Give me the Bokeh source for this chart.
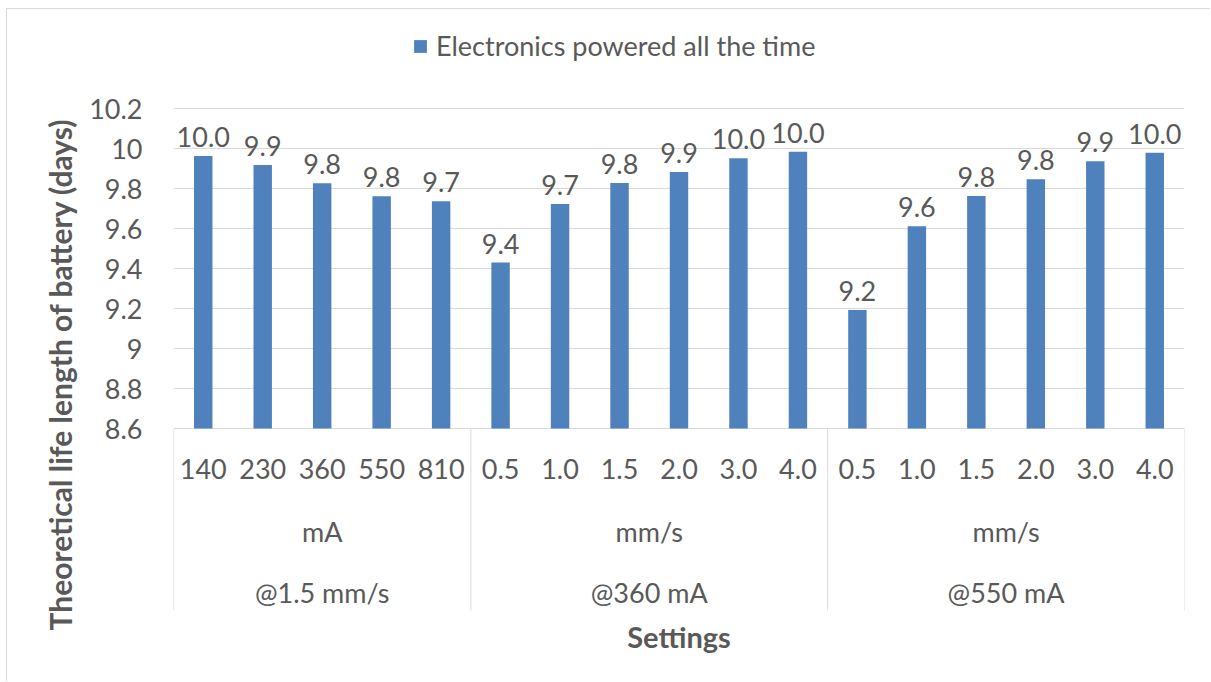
from bokeh.plotting import figure
from bokeh.models import (ColumnDataSource, FixedTicker, Legend, LegendItem, Range1d,
                          CustomJSTickFormatter, Title)
from bokeh.core.properties import value
from bokeh.embed import file_html
from bokeh.resources import INLINE

# --- data -------------------------------------------------------------
groups = ["@1.5 mm/s", "@360 mA", "@550 mA"]
units = ["mA", "mm/s", "mm/s"]
settings = [
    ["140", "230", "360", "550", "810"],
    ["0.5", "1.0", "1.5", "2.0", "3.0", "4.0"],
    ["0.5", "1.0", "1.5", "2.0", "3.0", "4.0"],
]
life_days = [
    [9.963, 9.918, 9.826, 9.761, 9.736],
    [9.430, 9.722, 9.827, 9.882, 9.951, 9.984],
    [9.193, 9.611, 9.763, 9.846, 9.936, 9.979],
]
y_ticks = [8.6, 8.8, 9.0, 9.2, 9.4, 9.6, 9.8, 10.0, 10.2]
series_name = "Electronics powered all the time"
y_title = "Theoretical life length of battery (days)"
x_title = "Settings"

# --- style -------------------------------------------------------------
FONT = "Lato"
TXT = "#595959"
GRID = "#D9D9D9"
BAR = "#4F81BD"
FS = "27px"
TITLE_FS = "29px"

# flatten the nested categories into bar positions
xs, tops, labels, names = [], [], [], []
bounds = [0]
for setting_list, vals in zip(settings, life_days):
    start = bounds[-1]
    for j, (s, v) in enumerate(zip(setting_list, vals)):
        xs.append(start + j + 0.5)
        tops.append(v)
        labels.append(f"{v:.1f}")
        names.append(s)
    bounds.append(start + len(setting_list))
n = bounds[-1]
group_mid = [(a + b) / 2 for a, b in zip(bounds[:-1], bounds[1:])]

axis_min = y_ticks[0]
# the frame reaches below the value axis (category box) and above it (legend room)
y_lo, y_hi = 7.69, 10.62

src = ColumnDataSource(dict(x=xs, top=tops, label=labels, name=names))

p = figure(width=1204, height=673,
           x_range=Range1d(0, n), y_range=Range1d(y_lo, y_hi),
           output_backend="svg", toolbar_location=None,
           min_border_left=166, min_border_right=27,
           min_border_top=15, min_border_bottom=72)
p.margin = (8, 0, 0, 6)
p.styles = {"border-left": f"1px solid {GRID}", "border-top": f"1px solid {GRID}"}
p.outline_line_color = None
p.background_fill_color = "white"
p.border_fill_color = "white"

bars = p.vbar(x="x", top="top", bottom=axis_min, width=0.31, source=src,
              fill_color=BAR, line_color=None)

# value labels above the bars
p.text(x="x", y="top", text="label", source=src, y_offset=-19,
       text_align="center", text_baseline="alphabetic",
       text_font=value(FONT), text_font_size=FS, text_color=TXT)

# category box: separators and three label rows
p.segment(x0=bounds, y0=[axis_min] * len(bounds), x1=bounds, y1=[y_lo] * len(bounds),
          line_color=GRID, line_width=1)
p.text(x="x", y=axis_min, text="name", source=src, y_offset=40,
       text_align="center", text_baseline="middle",
       text_font=value(FONT), text_font_size=FS, text_color=TXT)
p.text(x=group_mid, y=[axis_min] * len(group_mid), text=units, y_offset=103,
       text_align="center", text_baseline="middle",
       text_font=value(FONT), text_font_size=FS, text_color=TXT)
p.text(x=group_mid, y=[axis_min] * len(group_mid), text=groups, y_offset=164,
       text_align="center", text_baseline="middle",
       text_font=value(FONT), text_font_size=FS, text_color=TXT)

# y axis
yax = p.yaxis[0]
yax.ticker = FixedTicker(ticks=y_ticks)
yax.formatter = CustomJSTickFormatter(code="return String(Number(tick.toFixed(1)));")
yax.axis_line_color = None
yax.major_tick_line_color = None
yax.minor_tick_line_color = None
yax.major_tick_out = 0
yax.major_tick_in = 0
yax.major_label_standoff = 31
yax.major_label_text_font = FONT
yax.major_label_text_font_size = FS
yax.major_label_text_color = TXT

# y title, starting just below the category box and reading upwards
p.add_layout(Title(text=y_title, align="left", offset=-20, standoff=17,
                   text_font=FONT, text_font_style="bold",
                   text_font_size="30px", text_color=TXT), "left")

# x axis: only its title is shown
xax = p.xaxis[0]
xax.ticker = FixedTicker(ticks=[])
xax.axis_line_color = None
xax.major_tick_line_color = None
xax.minor_tick_line_color = None
xax.axis_label = x_title
xax.axis_label_text_font = FONT
xax.axis_label_text_font_style = "bold"
xax.axis_label_text_font_size = TITLE_FS
xax.axis_label_text_color = TXT
xax.axis_label_standoff = 8

p.ygrid.grid_line_color = GRID
p.ygrid.grid_line_width = 1
p.xgrid.visible = False

legend = Legend(items=[LegendItem(label=series_name, renderers=[bars])],
                location=(239, 548), orientation="horizontal",
                border_line_color=None, background_fill_alpha=0,
                padding=0, margin=0, spacing=0,
                glyph_width=16, glyph_height=16, label_standoff=8,
                label_text_font=FONT, label_text_font_size=FS,
                label_text_color=TXT)
p.add_layout(legend)

open("out.html", "w").write(file_html(p, INLINE))
